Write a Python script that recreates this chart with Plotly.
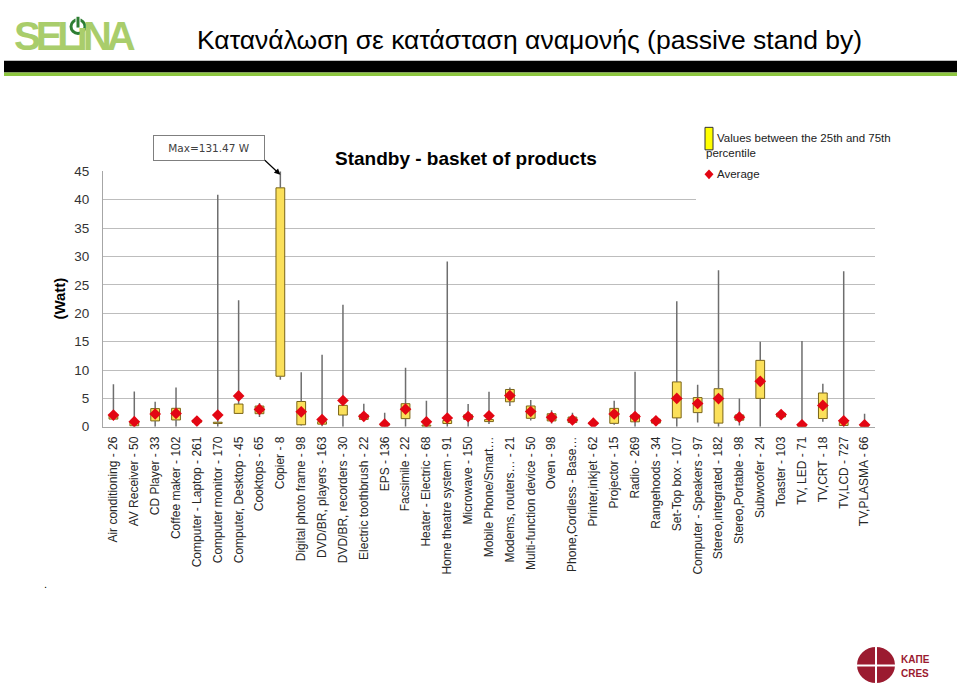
import plotly.graph_objects as go

categories = [
    "Air conditioning - 26", "AV Receiver - 50", "CD Player - 33", "Coffee maker - 102",
    "Computer - Laptop - 261", "Computer monitor - 170", "Computer, Desktop - 45", "Cooktops - 65",
    "Copier - 8", "Digital photo frame - 98", "DVD/BR, players - 163", "DVD/BR, recorders - 30",
    "Electric toothbrush - 22", "EPS - 136", "Facsimile - 22", "Heater - Electric - 68",
    "Home theatre system - 91", "Microwave - 150", "Mobile Phone/Smart…", "Modems, routers… - 21",
    "Multi-function device - 50", "Oven - 98", "Phone,Cordless - Base…", "Printer,inkjet - 62",
    "Projector - 15", "Radio - 269", "Rangehoods - 34", "Set-Top box - 107",
    "Computer - Speakers - 97", "Stereo,integrated - 182", "Stereo,Portable - 98", "Subwoofer - 24",
    "Toaster - 103", "TV, LED - 71", "TV,CRT - 18", "TV,LCD - 727", "TV,PLASMA - 66",
]
whisker_min = [1.3, 0.15, 0.0, 0.0, 0.7, 0.0, 2.3, 1.7, 8.3, 0.2, 0.1, 0.0,
               1.2, 0.05, 0.0, 0.05, 0.0, 0.0, 0.5, 3.66, 1.1, 0.57, 0.45, 0.4,
               0.35, 0.0, 0.64, 0.0, 0.75, 0.0, 0.2, 0.0, 1.73, 0.0, 0.87, 0.0, 0.0]
q1 = [1.35, 0.17, 1.03, 1.2, 0.75, 0.57, 2.35, 2.3, 8.9, 0.35, 0.46, 2.06,
      1.3, 0.17, 1.43, 0.1, 0.57, 1.3, 0.91, 4.4, 1.49, 1.03, 0.74, 0.45,
      0.6, 0.87, 0.64, 1.56, 2.49, 0.64, 1.16, 5.0, 1.73, 0.1, 1.45, 0.23, 0.1]
q3 = [2.1, 0.9, 3.2, 3.25, 1.15, 0.8, 4.0, 3.65, 42.1, 4.45, 0.9, 3.77,
      2.1, 0.6, 4.06, 0.3, 1.1, 2.1, 1.26, 6.57, 3.66, 2.29, 1.71, 0.8,
      3.24, 2.08, 1.33, 7.9, 5.14, 6.7, 2.08, 11.7, 2.37, 0.35, 5.95, 0.8, 0.35]
whisker_max = [7.5, 6.2, 4.4, 6.9, 1.9, 40.9, 22.3, 4.2, 131.47, 9.6, 12.7, 21.5,
               4.05, 2.46, 10.4, 4.57, 29.1, 4.0, 6.17, 6.9, 4.7, 2.9, 2.46, 1.04,
               4.6, 9.7, 1.33, 22.1, 7.4, 27.6, 5.0, 15.0, 2.37, 15.1, 7.57, 27.4, 2.3]
average = [2.05, 0.9, 2.25, 2.35, 1.0, 2.05, 5.43, 3.05, None, 2.63, 1.26, 4.63,
           1.83, 0.46, 3.1, 0.86, 1.54, 1.77, 1.94, 5.5, 2.69, 1.66, 1.2, 0.63,
           2.25, 1.8, 1.04, 5.0, 4.1, 4.97, 1.68, 8.0, 2.14, 0.35, 3.76, 1.04, 0.35]
y_ticks = [0, 5, 10, 15, 20, 25, 30, 35, 40, 45]

W, H = 960, 696


def fx(x):
    return x / W


def fy(y):
    return 1 - y / H


fig = go.Figure()

# whiskers (below and above the box)
wx, wy = [], []
for c, lo, a, b, hi in zip(categories, whisker_min, q1, q3, whisker_max):
    wx += [c, c, None, c, c, None]
    wy += [lo, a, None, b, hi, None]
fig.add_trace(go.Scatter(x=wx, y=wy, mode="lines", line=dict(color="#6e6e6e", width=1.5),
                         hoverinfo="skip", showlegend=False))

fig.add_trace(go.Bar(x=categories, y=[b - a for a, b in zip(q1, q3)], base=q1, width=0.42,
                     marker=dict(color="#fbe05a", line=dict(color="#7a6416", width=1)),
                     name="Values between the 25th and 75th percentile", showlegend=False))

fig.add_trace(go.Scatter(x=categories, y=average, mode="markers",
                         marker=dict(symbol="diamond", size=9, color="#e30613"),
                         name="Average", showlegend=False))

shapes = [
    dict(type="rect", xref="paper", yref="paper", x0=fx(4), x1=fx(957), y0=fy(67), y1=fy(55),
         fillcolor="#000000", line=dict(width=0), layer="above"),
    dict(type="rect", xref="paper", yref="paper", x0=fx(4), x1=fx(957), y0=fy(70.5), y1=fy(67),
         fillcolor="#8dc63f", line=dict(width=0), layer="above"),
    dict(type="rect", xref="paper", yref="paper", x0=fx(696), x1=fx(885), y0=fy(212), y1=fy(118),
         fillcolor="#ffffff", line=dict(width=0), layer="above"),
    dict(type="rect", xref="paper", yref="paper", x0=fx(705), x1=fx(713), y0=fy(146), y1=fy(123),
         fillcolor="#ffff00", line=dict(color="#333333", width=1), layer="above"),
    dict(type="path", xref="paper", yref="paper",
         path="M %f,%f L %f,%f L %f,%f L %f,%f Z" % (fx(709), fy(166), fx(713.5), fy(171),
                                                     fx(709), fy(176), fx(704.5), fy(171)),
         fillcolor="#e30613", line=dict(width=0), layer="above"),
    # SELINA power icon
    dict(type="circle", xref="paper", yref="paper", x0=fx(71), x1=fx(85), y0=fy(27), y1=fy(13),
         line=dict(color="#2e7d32", width=3), layer="above"),
    dict(type="line", xref="paper", yref="paper", x0=fx(78), x1=fx(78), y0=fy(22), y1=fy(9),
         line=dict(color="#ffffff", width=5), layer="above"),
    dict(type="line", xref="paper", yref="paper", x0=fx(78), x1=fx(78), y0=fy(21), y1=fy(10),
         line=dict(color="#2e7d32", width=3), layer="above"),
    # KAPE logo
    dict(type="circle", xref="paper", yref="paper", x0=fx(857), x1=fx(895), y0=fy(691), y1=fy(654),
         fillcolor="#9b1b30", line=dict(width=0), layer="above"),
    dict(type="line", xref="paper", yref="paper", x0=fx(855), x1=fx(897), y0=fy(673), y1=fy(673),
         line=dict(color="#ffffff", width=2), layer="above"),
    dict(type="line", xref="paper", yref="paper", x0=fx(876), x1=fx(876), y0=fy(652), y1=fy(693),
         line=dict(color="#ffffff", width=2), layer="above"),
]

annotations = [
    dict(text="<span style='letter-spacing:-5px'>SELıNA</span>", xref="paper", yref="paper",
         x=fx(12), y=fy(30), xanchor="left", yanchor="middle", showarrow=False,
         font=dict(family="Liberation Sans, Arial", size=40, color="#a9cd6b", weight="bold")),
    dict(text="Κατανάλωση σε κατάσταση αναμονής (passive stand by)", xref="paper", yref="paper",
         x=fx(195), y=fy(34), xanchor="left", yanchor="middle", showarrow=False,
         font=dict(family="Liberation Sans, Arial", size=26.5, color="#000000")),
    dict(text="Standby - basket of products", xref="paper", yref="paper",
         x=fx(466), y=fy(155), xanchor="center", yanchor="middle", showarrow=False,
         font=dict(family="Liberation Sans, Arial", size=19, color="#000000", weight="bold")),
    dict(text="(Watt)", xref="paper", yref="paper", x=fx(60), y=fy(298), textangle=-90,
         xanchor="center", yanchor="middle", showarrow=False,
         font=dict(family="Liberation Sans, Arial", size=15, color="#000000", weight="bold")),
    dict(text="Max=131.47 W", xref="paper", yref="paper", x=fx(209), y=fy(144),
         xanchor="center", yanchor="middle", showarrow=False, width=108, height=22,
         bgcolor="#ffffff", bordercolor="#7f7f7f", borderwidth=1, borderpad=1,
         font=dict(family="DejaVu Sans", size=10.5, color="#404040")),
    dict(text="", x=categories[8], y=44.4, xref="x", yref="y", ax=-17, ay=-16,
         axref="pixel", ayref="pixel", showarrow=True, arrowhead=2, arrowsize=1,
         arrowwidth=1.2, arrowcolor="#000000"),
    dict(text="Values between the 25th and 75th", xref="paper", yref="paper", x=fx(715), y=fy(134),
         xanchor="left", yanchor="middle", showarrow=False,
         font=dict(family="Liberation Sans, Arial", size=11.5, color="#222222")),
    dict(text="percentile", xref="paper", yref="paper", x=fx(704), y=fy(149),
         xanchor="left", yanchor="middle", showarrow=False,
         font=dict(family="Liberation Sans, Arial", size=11.5, color="#222222")),
    dict(text="Average", xref="paper", yref="paper", x=fx(715), y=fy(171),
         xanchor="left", yanchor="middle", showarrow=False,
         font=dict(family="Liberation Sans, Arial", size=11.5, color="#222222")),
    dict(text=".", xref="paper", yref="paper", x=fx(45), y=fy(590),
         xanchor="center", yanchor="middle", showarrow=False,
         font=dict(family="Liberation Sans, Arial", size=11, color="#000000")),
    dict(text="<b>ΚΑΠΕ</b>", xref="paper", yref="paper", x=fx(899), y=fy(667),
         xanchor="left", yanchor="middle", showarrow=False,
         font=dict(family="Liberation Sans, Arial", size=10, color="#9b1b30")),
    dict(text="<b>CRES</b>", xref="paper", yref="paper", x=fx(899), y=fy(681),
         xanchor="left", yanchor="middle", showarrow=False,
         font=dict(family="Liberation Sans, Arial", size=10, color="#9b1b30")),
]

fig.update_layout(
    width=W, height=H, margin=dict(l=0, r=0, t=0, b=0),
    paper_bgcolor="#ffffff", plot_bgcolor="#ffffff",
    showlegend=False, bargap=0.5,
    shapes=shapes, annotations=annotations,
    xaxis=dict(domain=[fx(103), fx(875)], type="category", categoryorder="array",
               categoryarray=categories, range=[-0.5, len(categories) - 0.5],
               tickangle=-90, showgrid=False, showline=True, linecolor="#a6a6a6", linewidth=1,
               ticks="", ticklabelstandoff=4,
               tickfont=dict(family="Liberation Sans, Arial", size=12, color="#262626")),
    yaxis=dict(domain=[fy(429), fy(168)], range=[0, 45], tickvals=y_ticks,
               showgrid=True, gridcolor="#bdbdbd", gridwidth=1, zeroline=False,
               showline=True, linecolor="#a6a6a6", linewidth=1, ticks="",
               ticklabelstandoff=10,
               tickfont=dict(family="Liberation Sans, Arial", size=13.5, color="#333333")),
)

post = """
document.documentElement.style.margin='0';
document.body.style.margin='0';
document.body.style.overflow='hidden';
"""
fig.write_html("out.html", post_script=post, config={"displayModeBar": False})
